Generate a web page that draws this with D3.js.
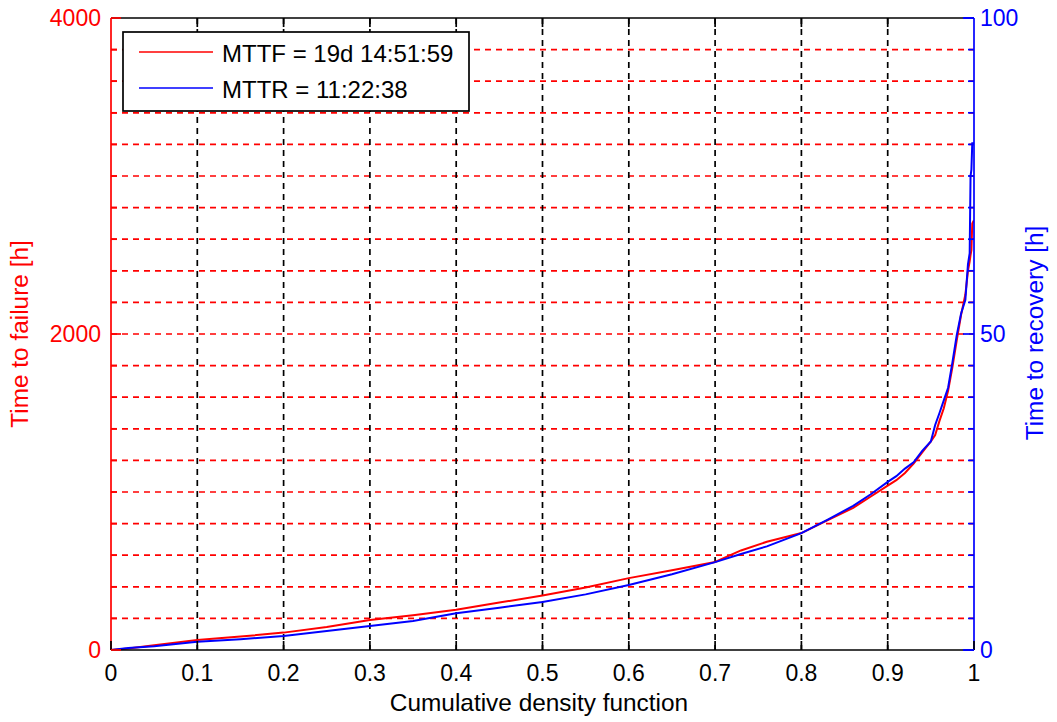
<!DOCTYPE html>
<html>
<head>
<meta charset="utf-8">
<script src="https://cdn.jsdelivr.net/npm/d3@7"></script>
<style>
  body { margin: 0; background: #fff; }
  text { font-family: 'Liberation Sans', Arial, sans-serif; }
</style>
</head>
<body>
<div id="chart"></div>
<script>
// cumulative probability (x) and quantiles for both series
const cdf = [0, 0.02, 0.05, 0.1, 0.15, 0.2, 0.25, 0.3, 0.35, 0.4, 0.45, 0.5, 0.55, 0.6, 0.65, 0.7,
  0.73, 0.76, 0.8, 0.83, 0.86, 0.88, 0.9, 0.91, 0.92, 0.93, 0.94, 0.95, 0.955, 0.96, 0.965,
  0.97, 0.975, 0.98, 0.985, 0.99, 0.993, 0.995, 0.996, 0.997, 0.998, 1]

// time to failure [h]
const ttf = [0, 10, 30, 63, 85, 110, 145, 190, 220, 255, 300, 345, 395, 455, 505, 557,
  630, 685, 740, 820, 900, 970, 1040, 1075, 1120, 1180, 1250, 1320, 1360, 1450, 1530,
  1640, 1790, 1960, 2120, 2250, 2400, 2460, 2500, 2530, 2700, 2720]

// time to recovery [h]
const ttr = [0, 0.3, 0.6, 1.3, 1.7, 2.2, 3.0, 3.8, 4.6, 5.8, 6.7, 7.6, 8.8, 10.3, 12, 13.9,
  15.2, 16.4, 18.5, 20.6, 22.8, 24.6, 26.6, 27.5, 28.7, 29.7, 31.5, 33.0, 35.6, 37.5, 39.5,
  41.5, 45.5, 49.8, 53.2, 55.4, 61, 62.8, 75, 76, 80.2, 80.2]

const xTicks = [0, 0.1, 0.2, 0.3, 0.4, 0.5, 0.6, 0.7, 0.8, 0.9, 1]
const leftTicks = [0, 2000, 4000]
const rightTicks = [0, 50, 100]
const legendLabels = ['MTTF = 19d 14:51:59', 'MTTR = 11:22:38']

const width = 1057
const height = 722
const margin = {top: 18, right: 83, bottom: 72, left: 111}
const red = '#ff0000'
const blue = '#0000ff'

const svg = d3.select('#chart')
  .append('svg')
  .attr('width', width)
  .attr('height', height)

const x = d3.scaleLinear().domain([0, 1]).range([margin.left, width - margin.right])
const yL = d3.scaleLinear().domain([0, 4000]).range([height - margin.bottom, margin.top])
const yR = d3.scaleLinear().domain([0, 100]).range([height - margin.bottom, margin.top])

const x0 = x(0), x1 = x(1), yb = yL(0), yt = yL(4000)

// red dashed horizontal grid (minor ticks of the left axis)
svg.append('g')
  .selectAll('line')
  .data(d3.range(200, 4000, 200))
  .join('line')
  .attr('x1', x0).attr('x2', x1)
  .attr('y1', d => yL(d)).attr('y2', d => yL(d))
  .attr('stroke', red)
  .attr('stroke-width', 1.7)
  .attr('stroke-dasharray', '6,5')

// black dashed vertical grid
svg.append('g')
  .selectAll('line')
  .data(xTicks.slice(1, -1))
  .join('line')
  .attr('x1', d => x(d)).attr('x2', d => x(d))
  .attr('y1', yt).attr('y2', yb)
  .attr('stroke', '#000')
  .attr('stroke-width', 1.7)
  .attr('stroke-dasharray', '6,5')

svg.append('clipPath').attr('id', 'clip')
  .append('rect')
  .attr('x', x0).attr('y', yt - 2)
  .attr('width', x1 - x0).attr('height', yb - yt + 2)

const lineL = d3.line().x((d, i) => x(cdf[i])).y(d => yL(d))
const lineR = d3.line().x((d, i) => x(cdf[i])).y(d => yR(d))

const curves = svg.append('g').attr('clip-path', 'url(#clip)')
curves.append('path')
  .attr('d', lineL(ttf))
  .attr('fill', 'none')
  .attr('stroke', red)
  .attr('stroke-width', 2)
curves.append('path')
  .attr('d', lineR(ttr))
  .attr('fill', 'none')
  .attr('stroke', blue)
  .attr('stroke-width', 2)

// frame: top and bottom black, left red, right blue
svg.append('line').attr('x1', x0).attr('x2', x1).attr('y1', yt).attr('y2', yt)
  .attr('stroke', '#000').attr('stroke-width', 1.7)
svg.append('line').attr('x1', x0).attr('x2', x1).attr('y1', yb).attr('y2', yb)
  .attr('stroke', '#000').attr('stroke-width', 1.7)
svg.append('line').attr('x1', x0).attr('x2', x0).attr('y1', yt).attr('y2', yb)
  .attr('stroke', red).attr('stroke-width', 1.7)
svg.append('line').attr('x1', x1).attr('x2', x1).attr('y1', yt).attr('y2', yb)
  .attr('stroke', blue).attr('stroke-width', 1.7)
// little blue corners from the second axes
svg.append('line').attr('x1', x1 - 11).attr('x2', x1).attr('y1', yt).attr('y2', yt)
  .attr('stroke', blue).attr('stroke-width', 1.7)
svg.append('line').attr('x1', x1 - 11).attr('x2', x1).attr('y1', yb).attr('y2', yb)
  .attr('stroke', blue).attr('stroke-width', 1.7)

// x ticks, inside, top and bottom
svg.append('g')
  .selectAll('line')
  .data(xTicks)
  .join('line')
  .attr('x1', d => x(d)).attr('x2', d => x(d))
  .attr('y1', yb).attr('y2', yb - 9)
  .attr('stroke', '#000').attr('stroke-width', 1.7)
svg.append('g')
  .selectAll('line')
  .data(xTicks.slice(1, -1))
  .join('line')
  .attr('x1', d => x(d)).attr('x2', d => x(d))
  .attr('y1', yt).attr('y2', yt + 9)
  .attr('stroke', '#000').attr('stroke-width', 1.7)

// y ticks, inside
svg.append('g')
  .selectAll('line')
  .data(d3.range(0, 4001, 200))
  .join('line')
  .attr('x1', x0).attr('x2', d => x0 + (d % 2000 === 0 ? 10 : 6))
  .attr('y1', d => yL(d)).attr('y2', d => yL(d))
  .attr('stroke', red).attr('stroke-width', 1.7)
svg.append('g')
  .selectAll('line')
  .data(d3.range(0, 101, 5))
  .join('line')
  .attr('x1', x1).attr('x2', d => x1 - (d % 50 === 0 ? 11 : 6))
  .attr('y1', d => yR(d)).attr('y2', d => yR(d))
  .attr('stroke', blue).attr('stroke-width', 1.7)

// tick labels
svg.append('g')
  .selectAll('text')
  .data(xTicks)
  .join('text')
  .attr('x', d => x(d))
  .attr('y', 681)
  .attr('text-anchor', 'middle')
  .attr('font-size', 23)
  .attr('fill', '#000')
  .text(d => d3.format('~g')(d))

svg.append('g')
  .selectAll('text')
  .data(leftTicks)
  .join('text')
  .attr('x', x0 - 10)
  .attr('y', d => yL(d) + 8)
  .attr('text-anchor', 'end')
  .attr('font-size', 23)
  .attr('fill', red)
  .text(d => d)

svg.append('g')
  .selectAll('text')
  .data(rightTicks)
  .join('text')
  .attr('x', x1 + 6)
  .attr('y', d => yR(d) + 8)
  .attr('font-size', 23)
  .attr('fill', blue)
  .text(d => d)

// axis labels
svg.append('text')
  .attr('x', 539).attr('y', 711)
  .attr('text-anchor', 'middle')
  .attr('font-size', 24.4)
  .text('Cumulative density function')

svg.append('text')
  .attr('transform', 'translate(28,334) rotate(-90)')
  .attr('text-anchor', 'middle')
  .attr('font-size', 24.4)
  .attr('fill', red)
  .text('Time to failure [h]')

svg.append('text')
  .attr('transform', 'translate(1043,333) rotate(-90)')
  .attr('text-anchor', 'middle')
  .attr('font-size', 24.4)
  .attr('fill', blue)
  .text('Time to recovery [h]')

// legend
const legend = svg.append('g')
legend.append('rect')
  .attr('x', 123).attr('y', 32)
  .attr('width', 346).attr('height', 79)
  .attr('fill', '#fff')
  .attr('stroke', '#000')
  .attr('stroke-width', 1.7)

legend.selectAll('line')
  .data(legendLabels)
  .join('line')
  .attr('x1', 139).attr('x2', 213)
  .attr('y1', (d, i) => 52 + i * 36).attr('y2', (d, i) => 52 + i * 36)
  .attr('stroke', (d, i) => i === 0 ? red : blue)
  .attr('stroke-width', 1.7)

legend.selectAll('text')
  .data(legendLabels)
  .join('text')
  .attr('x', 222)
  .attr('y', (d, i) => 62 + i * 36)
  .attr('font-size', 24)
  .attr('fill', '#000')
  .text(d => d)
</script>
</body>
</html>
